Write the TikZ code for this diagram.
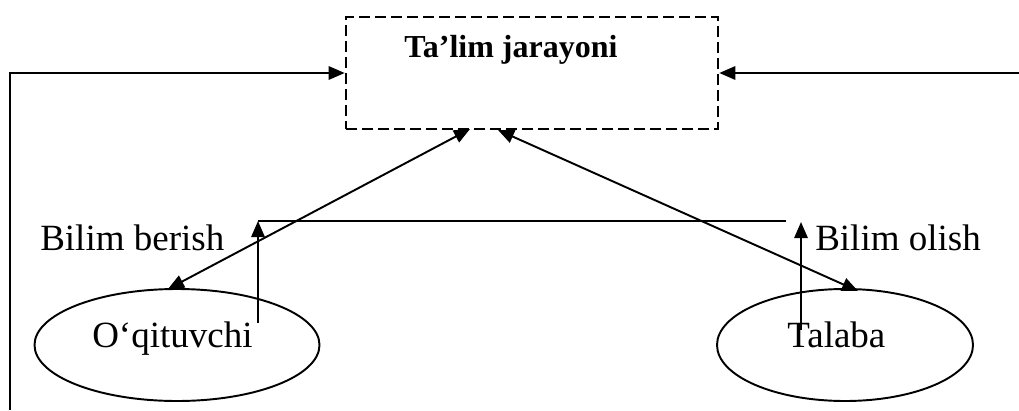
\documentclass[tikz,border=0pt]{standalone}
\usepackage{fontspec}
\setmainfont{Liberation Serif}
\usetikzlibrary{arrows.meta,shapes.geometric}
\tikzset{
  conn/.style={line width=1.45pt},
  tip/.style={-{Triangle[length=12pt,width=10pt]}},
  dtip/.style={{Triangle[length=12pt,width=10pt]}-{Triangle[length=12pt,width=10pt]}},
  bigtxt/.style={font=\fontsize{27.75pt}{30pt}\selectfont, inner sep=0pt},
  titletxt/.style={font=\fontsize{24pt}{26pt}\selectfont\bfseries, inner sep=0pt},
  oval/.style={ellipse, draw, line width=1.45pt, inner sep=0pt, minimum height=84pt},
}
\begin{document}
\begin{tikzpicture}[x=0.75pt,y=-0.75pt]
\useasboundingbox (0,0) rectangle (1019,410);
% main box
\node[draw, dash pattern=on 8pt off 4pt, line width=1.9pt, inner sep=0pt,
      minimum width=279pt, minimum height=84pt] (box) at (532,73) {};
\node[titletxt, anchor=base] (title) at (511,58) {Ta’lim jarayoni};
% ellipses
\node[oval, minimum width=213.75pt] (oq) at (177,345) {};
\node[oval, minimum width=192pt] (tal) at (845,345) {};
\node[bigtxt, anchor=base west] (oqt) at (92,347) {O‘qituvchi};
\node[bigtxt, anchor=base west] (talt) at (787,347) {Talaba};
% labels
\node[bigtxt, anchor=base west] (lb1) at (40,250) {Bilim berish};
\node[bigtxt, anchor=base west] (lb2) at (815,250) {Bilim olish};
% coordinates
\coordinate (lbot) at (10,410);
\coordinate (lcor) at (10,73);
\coordinate (rend) at (1019,73);
\coordinate (b1) at (470,129);
\coordinate (b2) at (498,130);
\coordinate (e1) at (168,289);
\coordinate (e2) at (858,291);
\coordinate (v1b) at (258,323);
\coordinate (v1t) at (258,221);
\coordinate (hr) at (786,221);
\coordinate (v2b) at (801,330);
\coordinate (v2t) at (801,222);
% connectors
\draw[conn, tip] (lbot) -- (lcor) -- (box.west);
\draw[conn, tip] (rend) -- (box.east);
\draw[conn, dtip] (b1) -- (e1);
\draw[conn, dtip] (b2) -- (e2);
\draw[conn, tip] (v1b) -- (v1t);
\draw[conn] (v1t) -- (hr);
\draw[conn, tip] (v2b) -- (v2t);
\end{tikzpicture}
\end{document}
